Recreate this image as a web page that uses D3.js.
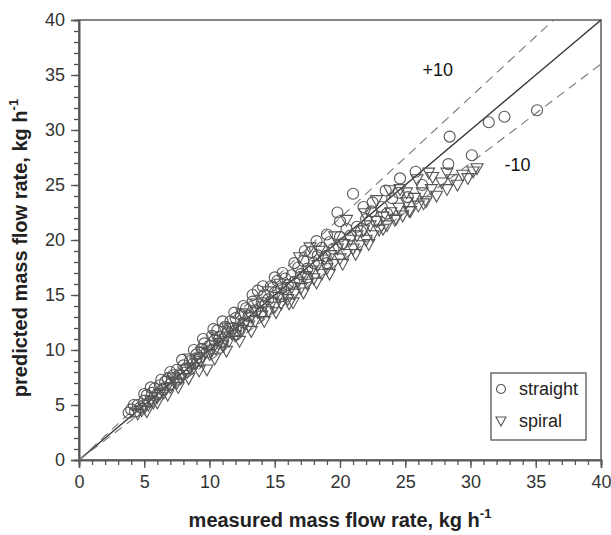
<!DOCTYPE html>
<html>
<head>
<meta charset="utf-8">
<script src="https://cdn.jsdelivr.net/npm/d3@7"></script>
<style>
  body { margin: 0; background: #fff; overflow: hidden; }
  svg { display: block; font-family: "Liberation Sans", Arial, sans-serif; }
</style>
</head>
<body>
<div id="chart"></div>
<script>
// measured vs predicted mass flow rate, kg h-1
const straight = [
  [3.8, 4.3], [4.0, 4.6], [4.2, 5.0], [4.3, 4.4], [4.5, 5.0], [4.7, 4.8], [5.0, 5.4], [5.0, 6.0],
  [5.2, 5.9], [5.4, 5.3], [5.5, 6.6], [5.6, 6.1], [5.8, 6.5], [6.0, 6.0], [6.2, 6.8], [6.3, 7.3],
  [6.4, 6.4], [6.6, 7.1], [6.8, 7.4], [7.0, 6.9], [7.0, 8.0], [7.2, 7.7], [7.5, 8.2], [7.7, 7.8],
  [7.9, 9.1], [8.0, 8.6], [8.2, 8.3], [8.5, 9.0], [8.7, 8.7], [8.8, 10.0], [9.0, 9.6], [9.2, 9.3],
  [9.4, 10.1], [9.5, 11.0], [9.6, 10.6], [9.8, 9.8], [10.0, 10.4], [10.2, 11.3], [10.3, 11.9],
  [10.4, 10.9], [10.6, 11.8], [10.8, 11.2], [10.8, 10.2], [11.0, 10.7], [11.0, 12.6], [11.2, 12.1],
  [11.4, 11.6], [11.6, 12.6], [11.8, 12.0], [11.9, 13.4], [12.0, 12.9], [12.0, 11.4], [12.2, 11.8],
  [12.4, 13.2], [12.6, 12.5], [12.6, 14.0], [12.8, 13.8], [13.0, 13.1], [13.3, 14.4], [13.3, 15.0],
  [13.5, 13.6], [13.7, 15.4], [14.0, 14.3], [14.0, 13.4], [14.1, 15.8], [14.2, 15.0], [14.5, 14.6],
  [14.7, 15.8], [15.0, 15.2], [15.0, 16.6], [15.2, 16.3], [15.5, 15.6], [15.6, 17.0], [15.6, 14.9],
  [15.8, 16.5], [16.0, 15.9], [16.3, 16.8], [16.5, 16.2], [16.5, 17.9], [16.8, 17.5], [17.0, 16.9],
  [17.2, 18.1], [17.3, 19.0], [17.5, 17.4], [17.5, 16.6], [17.8, 18.9], [18.0, 17.9], [18.2, 19.9],
  [18.3, 18.6], [18.6, 19.3], [18.9, 18.5], [19.0, 20.5], [19.0, 17.9], [19.2, 19.8], [19.5, 19.2],
  [19.8, 22.5], [20.0, 20.3], [20.0, 21.7], [20.2, 19.7], [20.5, 21.0], [20.8, 20.4], [21.0, 24.2],
  [21.3, 21.2], [21.6, 20.8], [21.8, 23.0], [22.0, 21.9], [22.4, 22.6], [22.5, 23.4], [22.8, 21.7],
  [23.2, 23.0], [23.5, 24.5], [23.6, 22.4], [24.0, 23.8], [24.5, 24.3], [24.6, 25.6], [25.2, 23.9],
  [25.8, 26.2], [26.3, 25.0], [28.3, 26.9], [28.4, 29.4], [30.1, 27.7], [31.4, 30.7], [32.6, 31.2],
  [35.1, 31.8]
];

const spiral = [
  [4.5, 4.2], [4.8, 4.5], [5.0, 4.7], [5.2, 4.4], [5.3, 5.0], [5.5, 5.4], [5.7, 5.2], [6.0, 5.7],
  [6.0, 5.2], [6.2, 6.0], [6.5, 6.1], [6.7, 6.5], [6.8, 5.9], [7.0, 6.6], [7.2, 7.5], [7.3, 7.1],
  [7.5, 7.0], [7.6, 6.6], [7.8, 7.4], [8.0, 7.7], [8.3, 8.0], [8.4, 7.4], [8.5, 8.3], [8.5, 9.2],
  [8.8, 8.4], [9.0, 8.8], [9.2, 8.1], [9.3, 9.0], [9.4, 9.8], [9.5, 9.3], [9.8, 8.2], [10.0, 9.6],
  [10.2, 10.0], [10.4, 9.2], [10.5, 10.1], [10.5, 11.2], [10.7, 10.6], [11.0, 10.4], [11.2, 11.0],
  [11.3, 9.9], [11.4, 12.0], [11.5, 10.8], [11.7, 11.5], [12.0, 11.3], [12.2, 12.0], [12.3, 10.8],
  [12.5, 11.8], [12.5, 13.3], [12.7, 12.4], [13.0, 12.2], [13.2, 13.0], [13.2, 11.7], [13.5, 12.6],
  [13.6, 14.2], [13.7, 13.4], [14.0, 13.1], [14.2, 14.0], [14.2, 12.6], [14.5, 13.5], [14.5, 15.3],
  [14.8, 14.3], [15.0, 13.9], [15.1, 13.4], [15.3, 14.8], [15.4, 16.0], [15.5, 14.2], [15.8, 15.2],
  [16.0, 14.6], [16.1, 14.2], [16.3, 15.7], [16.4, 14.3], [16.5, 15.1], [16.8, 16.2], [16.9, 18.4],
  [17.0, 15.6], [17.2, 15.2], [17.3, 16.7], [17.5, 16.0], [17.7, 19.3], [17.8, 17.2], [18.0, 16.5],
  [18.2, 16.1], [18.3, 17.7], [18.4, 19.0], [18.6, 16.9], [18.8, 18.2], [19.0, 17.4], [19.2, 16.9],
  [19.3, 18.6], [19.5, 17.8], [19.6, 20.3], [19.8, 19.2], [20.0, 18.3], [20.2, 17.8], [20.3, 19.6],
  [20.5, 18.7], [20.5, 21.8], [20.8, 20.0], [21.0, 19.2], [21.2, 18.7], [21.3, 20.4], [21.5, 19.5],
  [21.8, 20.9], [21.9, 22.4], [22.0, 20.0], [22.2, 19.6], [22.3, 21.3], [22.5, 20.4], [22.8, 21.7],
  [22.8, 23.6], [23.0, 20.9], [23.3, 22.1], [23.3, 21.0], [23.6, 21.3], [23.8, 24.5], [23.9, 22.5],
  [24.2, 21.8], [24.3, 21.9], [24.5, 22.9], [24.6, 24.6], [24.8, 22.2], [25.1, 23.4], [25.1, 24.3],
  [25.3, 22.6], [25.4, 22.6], [25.7, 23.8], [25.9, 25.5], [26.0, 23.1], [26.3, 24.3], [26.4, 23.3],
  [26.6, 23.5], [26.8, 26.1], [27.0, 24.6], [27.1, 25.7], [27.4, 24.0], [27.8, 25.2], [28.2, 24.6],
  [28.2, 26.1], [28.6, 25.5], [29.0, 25.0], [29.4, 25.9], [29.8, 25.6], [30.2, 26.2], [30.5, 26.5]
];

const majorTicks = [0, 5, 10, 15, 20, 25, 30, 35, 40];
const minorTicks = d3.range(0, 41, 1);
const bandLines = [
  { slope: 1.1, label: "+10", at: [27.5, 35.5] },
  { slope: 0.9, label: "-10", at: [33.6, 26.8] }
];
const legendItems = ["straight", "spiral"];

const width = 611;
const height = 535;
const margin = { top: 20, right: 10, bottom: 75, left: 79 };
const innerWidth = 601 - margin.left;
const innerHeight = 460 - margin.top;
const fontFamily = '"Liberation Sans", Arial, sans-serif';

const x = d3.scaleLinear().domain([0, 40]).range([0, innerWidth]);
const y = d3.scaleLinear().domain([0, 40]).range([innerHeight, 0]);

const svg = d3
  .select("#chart")
  .append("svg")
  .attr("width", width)
  .attr("height", height)
  .attr("viewBox", [0, 0, width, height]);

const chart = svg.append("g").attr("transform", `translate(${margin.left},${margin.top})`);

// frame
chart
  .append("rect")
  .attr("width", innerWidth)
  .attr("height", innerHeight)
  .attr("fill", "none")
  .attr("stroke", "#666")
  .attr("stroke-width", 1.6);

const styleAxis = (axis) => {
  axis.attr("font-size", 18).attr("font-family", fontFamily);
  axis.select(".domain").attr("stroke", "#555").attr("stroke-width", 1.6);
  axis.selectAll(".tick line").attr("stroke", "#555").attr("stroke-width", 1.3);
  axis.selectAll(".tick text").attr("fill", "#333");
};

// minor ticks (no labels)
chart
  .append("g")
  .attr("transform", `translate(0,${innerHeight})`)
  .call(d3.axisBottom(x).tickValues(minorTicks).tickSize(5).tickFormat(""))
  .call(styleAxis)
  .call((axis) => axis.selectAll("text").remove());
chart
  .append("g")
  .call(d3.axisLeft(y).tickValues(minorTicks).tickSize(5).tickFormat(""))
  .call(styleAxis)
  .call((axis) => axis.selectAll("text").remove());

// major ticks
chart
  .append("g")
  .attr("transform", `translate(0,${innerHeight})`)
  .call(d3.axisBottom(x).tickValues(majorTicks).tickSize(8).tickPadding(7).tickFormat(d3.format("d")))
  .call(styleAxis);
chart
  .append("g")
  .call(d3.axisLeft(y).tickValues(majorTicks).tickSize(8).tickPadding(6).tickFormat(d3.format("d")))
  .call(styleAxis);

// 1:1 line and +-10% lines
chart
  .append("line")
  .attr("x1", x(0))
  .attr("y1", y(0))
  .attr("x2", x(40))
  .attr("y2", y(40))
  .attr("stroke", "#333")
  .attr("stroke-width", 1.4);

bandLines.forEach((band) => {
  const xEnd = Math.min(40, 40 / band.slope);
  chart
    .append("line")
    .attr("x1", x(0))
    .attr("y1", y(0))
    .attr("x2", x(xEnd))
    .attr("y2", y(xEnd * band.slope))
    .attr("stroke", "#777")
    .attr("stroke-width", 1.1)
    .attr("stroke-dasharray", "9,6");

  chart
    .append("text")
    .attr("x", x(band.at[0]))
    .attr("y", y(band.at[1]) + 6)
    .attr("text-anchor", "middle")
    .attr("fill", "#111")
    .attr("font-size", 18)
    .text(band.label);
});

const triangle = (size) => `M${-size / 2},${-size * 0.4}L${size / 2},${-size * 0.4}L0,${size * 0.5}Z`;

// markers
chart
  .append("g")
  .selectAll("path")
  .data(spiral)
  .join("path")
  .attr("transform", (d) => `translate(${x(d[0])},${y(d[1])})`)
  .attr("d", triangle(12))
  .attr("fill", "none")
  .attr("stroke", "#555")
  .attr("stroke-width", 1.1);

chart
  .append("g")
  .selectAll("circle")
  .data(straight)
  .join("circle")
  .attr("cx", (d) => x(d[0]))
  .attr("cy", (d) => y(d[1]))
  .attr("r", 5.5)
  .attr("fill", "none")
  .attr("stroke", "#555")
  .attr("stroke-width", 1.1);

// legend
const legend = svg.append("g").attr("transform", "translate(491,373)");
legend
  .append("rect")
  .attr("width", 95)
  .attr("height", 67)
  .attr("fill", "#fff")
  .attr("stroke", "#555")
  .attr("stroke-width", 1.3);

legendItems.forEach((name, i) => {
  const row = legend.append("g").attr("transform", `translate(10,${16 + i * 32})`);
  if (i === 0) {
    row.append("circle").attr("r", 4.5).attr("fill", "none").attr("stroke", "#555").attr("stroke-width", 1.1);
  } else {
    row.append("path").attr("d", triangle(10)).attr("fill", "none").attr("stroke", "#555").attr("stroke-width", 1.1);
  }
  row
    .append("text")
    .attr("x", 18)
    .attr("y", 6)
    .attr("fill", "#222")
    .attr("font-size", 18)
    .text(name);
});

// axis titles
const xTitle = svg
  .append("text")
  .attr("x", margin.left + innerWidth / 2)
  .attr("y", 527)
  .attr("text-anchor", "middle")
  .attr("fill", "#222")
  .attr("font-size", 20)
  .attr("font-weight", "bold")
  .text("measured mass flow rate, kg h");
xTitle.append("tspan").attr("dy", -9).attr("font-size", 13).text("-1");

const yTitle = svg
  .append("text")
  .attr("transform", `translate(27,${margin.top + innerHeight / 2 + 8}) rotate(-90)`)
  .attr("text-anchor", "middle")
  .attr("fill", "#222")
  .attr("font-size", 20)
  .attr("font-weight", "bold")
  .text("predicted mass flow rate, kg h");
yTitle.append("tspan").attr("dy", -9).attr("font-size", 13).text("-1");
</script>
</body>
</html>
